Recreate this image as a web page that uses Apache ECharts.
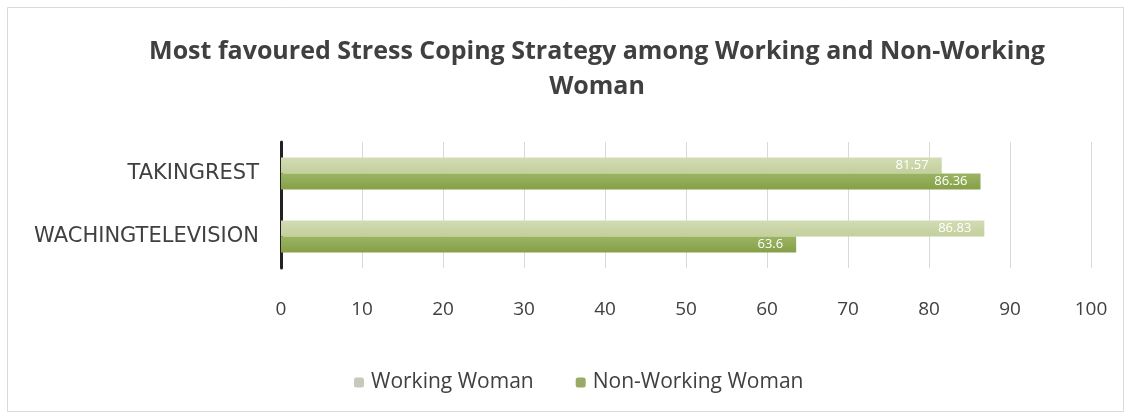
<!DOCTYPE html>
<html><head><meta charset="utf-8">
<script src="https://cdn.jsdelivr.net/npm/echarts@6/dist/echarts.min.js"></script>
<style>html,body{margin:0;padding:0;background:#fff}#c{width:1131px;height:419px}</style>
</head><body><div id="c"></div>
<script>
const categories = ['TAKINGREST', 'WACHINGTELEVISION'];
const workingWoman = [81.57, 86.83];
const nonWorkingWoman = [86.36, 63.6];
const xTicks = [0, 10, 20, 30, 40, 50, 60, 70, 80, 90, 100];

const chart = echarts.init(document.getElementById('c'));
const font = '"Open Sans", "DejaVu Sans", sans-serif';
const wide = '"DejaVu Sans", sans-serif';
chart.setOption({
  animation: false,
  backgroundColor: '#fff',
  graphic: [{type: 'rect', shape: {x: 7.5, y: 7.5, width: 1116, height: 404}, style: {fill: 'none', stroke: '#d9d9d9', lineWidth: 1}}],
  title: {
    text: 'Most favoured Stress Coping Strategy among Working and Non-Working\nWoman',
    left: 592, top: 29, textAlign: 'center',
    textStyle: {fontFamily: font, fontSize: 25, fontWeight: 'bold', color: '#404040', lineHeight: 35}
  },
  legend: {
    top: 367, left: 349, itemWidth: 10, itemHeight: 10, itemGap: 42,
    textStyle: {fontFamily: font, fontSize: 21, color: '#404040', padding: [0, 0, 0, 2]},
    data: [{name: 'Working Woman', itemStyle: {color: '#c6c9bc'}}, {name: 'Non-Working Woman', itemStyle: {color: '#98aa64'}}]
  },
  grid: {left: 281, right: 40, top: 142, height: 126, containLabel: false},
  xAxis: {
    type: 'value', min: 0, max: 100, interval: 10,
    axisLine: {show: false}, axisTick: {show: false},
    splitLine: {lineStyle: {color: '#d9d9d9'}},
    axisLabel: {fontFamily: font, fontSize: 19, color: '#404040', margin: 32,
      formatter: v => String(xTicks[xTicks.indexOf(v)])}
  },
  yAxis: {
    type: 'category', data: categories, inverse: true,
    axisLine: {lineStyle: {color: '#222', width: 3}}, axisTick: {show: false},
    axisLabel: {fontFamily: wide, fontSize: 21, color: '#404040', margin: 22}
  },
  series: [
    {name: 'Working Woman', type: 'bar', data: workingWoman, barWidth: 16, barGap: '0%',
     itemStyle: {color: new echarts.graphic.LinearGradient(0,0,0,1,[{offset:0,color:'#d2dcb4'},{offset:1,color:'#c3cf9c'}])},
     label: {show: true, position: 'insideRight', color: '#fff', fontFamily: font, fontSize: 13, offset: [-8, 0]}},
    {name: 'Non-Working Woman', type: 'bar', data: nonWorkingWoman, barWidth: 16,
     itemStyle: {color: new echarts.graphic.LinearGradient(0,0,0,1,[{offset:0,color:'#9ab463'},{offset:1,color:'#86a048'}])},
     label: {show: true, position: 'insideRight', color: '#fff', fontFamily: font, fontSize: 13, offset: [-8, 0]}}
  ]
});
</script></body></html>
